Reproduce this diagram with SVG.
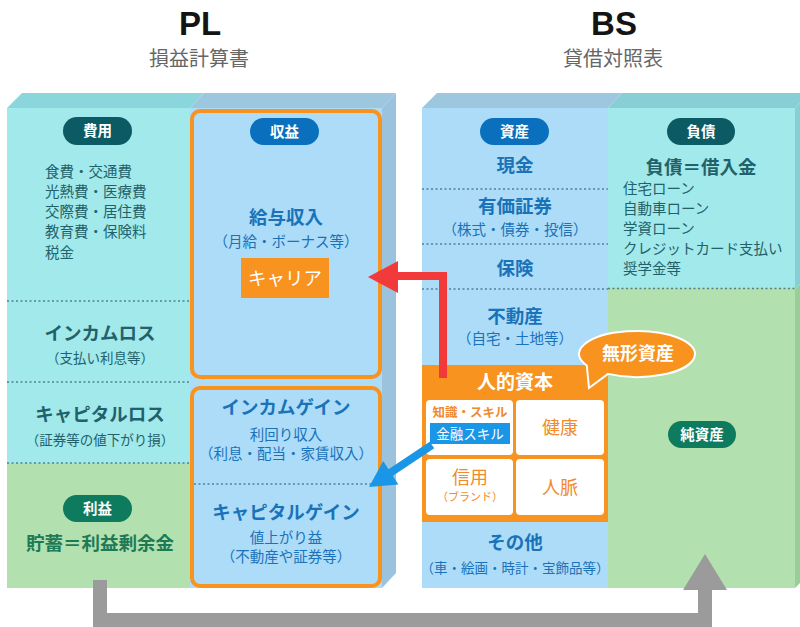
<svg xmlns="http://www.w3.org/2000/svg" width="800" height="627" viewBox="0 0 800 627">
<defs>
<style>
text{font-family:"Noto Sans CJK JP","Noto Sans",sans-serif}
.t{font-family:"Liberation Sans",Arial,sans-serif;font-weight:bold;font-size:33px;fill:#141414;text-anchor:middle}
.st{font-size:20px;fill:#666;text-anchor:middle}
.bt{font-size:14.5px;fill:#fff;font-weight:bold;text-anchor:middle}
.c{text-anchor:middle}
.teal{fill:#22616a}
.blue{fill:#1a72b8}
.green{fill:#1d7a57}
.h{font-weight:bold;font-size:18.5px}
.s{font-size:14.5px}
.s2{font-size:13.5px}
.dot{stroke:#4f8196;stroke-width:1.3;stroke-dasharray:2 2.5;fill:none}
.ob{fill:#acdcf8;stroke:#f7931e;stroke-width:4}
.cell{fill:#fff}
.or{fill:#f08a2a}
</style>
</defs>
<rect width="800" height="627" fill="#fff"/>

<g id="titles">
<text class="t" x="200" y="35">PL</text>
<text class="st" x="199" y="66">損益計算書</text>
<text class="t" x="614" y="35">BS</text>
<text class="st" x="613" y="66">貸借対照表</text>
</g>

<g id="pl-block">
<polygon points="7,108 22,93 204,93 190,108" fill="#8bd5dc"/>
<polygon points="190,108 204,93 396,93 382,108" fill="#9dc6df"/>
<polygon points="382,108 396,93 396,573 382,588" fill="#9cc3dd"/>
<rect x="7" y="108" width="183" height="355" fill="#a2e9eb"/>
<rect x="7" y="463" width="183" height="125" fill="#b3e0af"/>
<rect x="190" y="108" width="192" height="480" fill="#acdcf8"/>
<line class="dot" x1="7" y1="301" x2="190" y2="301"/>
<line class="dot" x1="7" y1="382" x2="190" y2="382"/>
<line class="dot" x1="7" y1="463" x2="190" y2="463"/>
</g>

<g id="expense">
<rect x="63" y="117" width="69" height="28" rx="14" fill="#0c5a64"/>
<text class="bt" x="97.5" y="136">費用</text>
<text class="teal s" x="45" y="177">食費・交通費</text>
<text class="teal s" x="45" y="197">光熱費・医療費</text>
<text class="teal s" x="45" y="217">交際費・居住費</text>
<text class="teal s" x="45" y="237">教育費・保険料</text>
<text class="teal s" x="45" y="258">税金</text>
</g>

<g id="income-loss">
<text class="teal h c" x="100" y="340">インカムロス</text>
<text class="teal s2 c" x="100" y="363">（支払い利息等）</text>
</g>

<g id="capital-loss">
<text class="teal h c" x="100" y="421">キャピタルロス</text>
<text class="teal s2 c" x="100" y="445">（証券等の値下がり損）</text>
</g>

<g id="profit">
<rect x="63" y="495" width="69" height="27" rx="13.5" fill="#0e7a5e"/>
<text class="bt" x="97.5" y="513.5">利益</text>
<text class="green h c" x="100" y="550">貯蓄＝利益剰余金</text>
</g>

<g id="revenue">
<rect class="ob" x="192" y="111" width="188" height="266" rx="8"/>
<rect x="250" y="118" width="69" height="27" rx="13.5" fill="#0a70bd"/>
<text class="bt" x="284.5" y="136.5">収益</text>
<text class="blue h c" x="286" y="224">給与収入</text>
<text class="blue s c" x="286" y="247">（月給・ボーナス等）</text>
<rect x="241" y="258" width="88" height="40" fill="#f7931e"/>
<text class="c" x="285" y="285" font-size="18.5" fill="#fff">キャリア</text>
</g>

<g id="gains">
<rect class="ob" x="192" y="388" width="188" height="198" rx="8"/>
<line class="dot" x1="194" y1="484" x2="378" y2="484"/>
<text class="blue h c" x="286" y="414">インカムゲイン</text>
<text class="blue s c" x="286" y="440">利回り収入</text>
<text class="blue s c" x="286" y="459">（利息・配当・家賃収入）</text>
<text class="blue h c" x="286" y="519">キャピタルゲイン</text>
<text class="blue s c" x="286" y="543">値上がり益</text>
<text class="blue s c" x="286" y="562">（不動産や証券等）</text>
</g>

<g id="bs-block">
<polygon points="422,108 437,93 622,93 608,108" fill="#9dc6df"/>
<polygon points="608,108 622,93 810,93 795,108" fill="#88cfd5"/>
<polygon points="795,108 810,93 810,274 795,289" fill="#88cfd5"/>
<polygon points="795,289 810,274 810,573 795,588" fill="#9bcd98"/>
<rect x="422" y="108" width="186" height="480" fill="#acdcf8"/>
<rect x="608" y="108" width="187" height="180" fill="#a2e9eb"/>
<rect x="608" y="288" width="187" height="300" fill="#b3e0af"/>
<line class="dot" x1="422" y1="189" x2="608" y2="189"/>
<line class="dot" x1="422" y1="244" x2="608" y2="244"/>
<line class="dot" x1="422" y1="289" x2="608" y2="289"/>
<line class="dot" x1="608" y1="288.5" x2="795" y2="288.5"/>
</g>

<g id="assets">
<rect x="480" y="118" width="69" height="27" rx="13.5" fill="#0a70bd"/>
<text class="bt" x="514.5" y="136.5">資産</text>
<text class="blue h c" x="515" y="172">現金</text>
<text class="blue h c" x="515" y="213">有価証券</text>
<text class="blue s c" x="515" y="235">（株式・債券・投信）</text>
<text class="blue h c" x="515" y="275">保険</text>
<text class="blue h c" x="515" y="323">不動産</text>
<text class="blue s c" x="515" y="344">（自宅・土地等）</text>
<text class="blue h c" x="515" y="549">その他</text>
<text class="blue s2 c" x="515" y="573">（車・絵画・時計・宝飾品等）</text>
</g>

<g id="human-capital">
<rect x="422" y="365" width="186" height="157" fill="#f7931e"/>
<text class="c" x="515" y="389" font-size="19" font-weight="bold" fill="#fff">人的資本</text>
<rect class="cell" x="426" y="400" width="87" height="55" rx="4"/>
<rect class="cell" x="516" y="400" width="88" height="55" rx="4"/>
<rect class="cell" x="426" y="459" width="87" height="56" rx="4"/>
<rect class="cell" x="516" y="459" width="88" height="56" rx="4"/>
<text class="or c" x="470" y="416.5" font-size="12.5" font-weight="bold">知識・スキル</text>
<rect x="430" y="423" width="80" height="21" fill="#1a96e6"/>
<text class="c" x="470" y="438.5" font-size="13.5" fill="#fff">金融スキル</text>
<text class="or c" x="560" y="434" font-size="18">健康</text>
<text class="or c" x="470" y="484" font-size="18">信用</text>
<text class="or c" x="470" y="501" font-size="11">（ブランド）</text>
<text class="or c" x="560" y="494" font-size="18">人脈</text>
</g>

<g id="liabilities">
<rect x="667" y="118" width="68" height="27" rx="13.5" fill="#0c5a64"/>
<text class="bt" x="701" y="136.5">負債</text>
<text class="teal h c" x="701" y="174">負債＝借入金</text>
<text class="teal s" x="623" y="194">住宅ローン</text>
<text class="teal s" x="623" y="214">自動車ローン</text>
<text class="teal s" x="623" y="234">学資ローン</text>
<text class="teal s" x="623" y="254">クレジットカード支払い</text>
<text class="teal s" x="623" y="274">奨学金等</text>
</g>

<g id="net-assets">
<rect x="668" y="421" width="68" height="27" rx="13.5" fill="#0e7a5e"/>
<text class="bt" x="702" y="439.5">純資産</text>
</g>

<g id="intangible">
<path d="M608,373.9 L589,388 L586.8,365.5 A58,23 0 1,1 608,373.9 Z" fill="#f7931e" stroke="#fff" stroke-width="2"/>
<text class="c" x="638" y="360" font-size="18" font-weight="bold" fill="#fff">無形資産</text>
</g>

<g id="connectors">
<path d="M443,378 V276 H396" fill="none" stroke="#f23a3a" stroke-width="8"/>
<polygon points="368,277 398,261 398,293" fill="#f23a3a"/>
<line x1="432" y1="445" x2="390" y2="473" stroke="#1a96e6" stroke-width="8"/>
<polygon points="369,487 383.2,461.1 398.4,484.5" fill="#1a96e6"/>
<path d="M100,580 V620 H705 V588" fill="none" stroke="#9b9b9b" stroke-width="14"/>
<polygon points="705,554 683,590 727,590" fill="#9b9b9b"/>
</g>
</svg>
